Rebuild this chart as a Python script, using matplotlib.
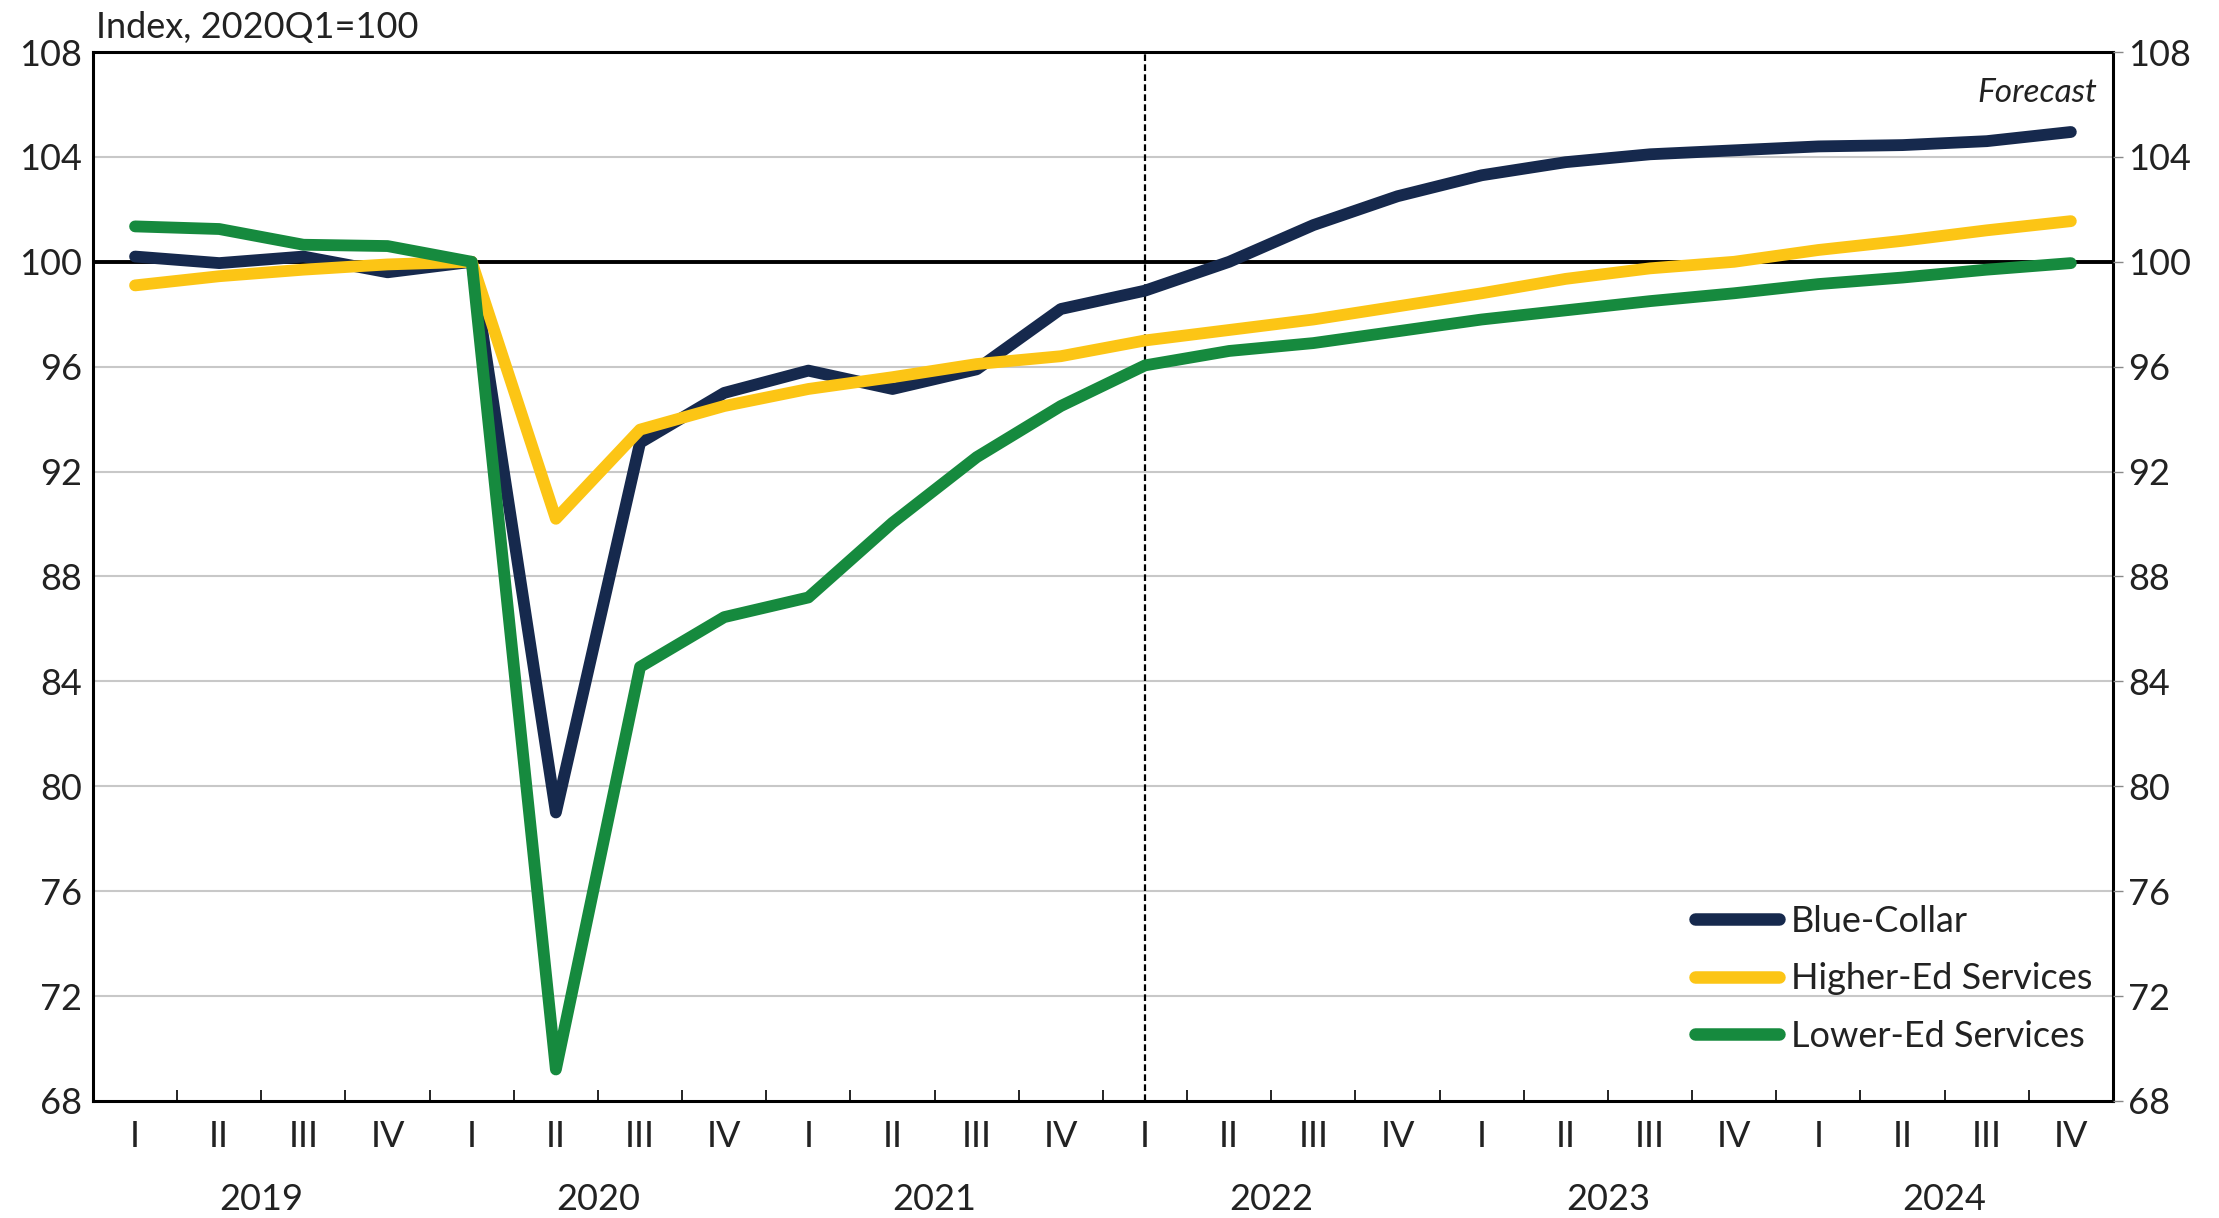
import matplotlib
matplotlib.use("Agg")
import matplotlib.pyplot as plt
from matplotlib.ticker import FixedLocator, NullFormatter

plt.rcParams['font.family'] = ['Lato', 'DejaVu Sans']

quarters = ["I", "II", "III", "IV"] * 6
years = ["2019", "2020", "2021", "2022", "2023", "2024"]

blue_collar = [100.2, 99.95, 100.2, 99.6, 100.0, 79.0, 93.1, 95.0, 95.85, 95.15, 95.9, 98.2,
               98.9, 100.0, 101.4, 102.5, 103.3, 103.8, 104.1, 104.25, 104.4, 104.45, 104.6, 104.95]
higher_ed = [99.1, 99.45, 99.7, 99.9, 100.0, 90.2, 93.6, 94.5, 95.15, 95.6, 96.1, 96.4,
             97.0, 97.4, 97.8, 98.3, 98.8, 99.35, 99.75, 100.0, 100.45, 100.8, 101.2, 101.55]
lower_ed = [101.35, 101.25, 100.65, 100.6, 100.0, 69.2, 84.55, 86.45, 87.2, 90.05, 92.55, 94.5,
            96.05, 96.6, 96.9, 97.35, 97.8, 98.15, 98.5, 98.8, 99.15, 99.4, 99.7, 99.95]

series = [("Blue-Collar", blue_collar, "#16294d"),
          ("Higher-Ed Services", higher_ed, "#fcc515"),
          ("Lower-Ed Services", lower_ed, "#168a3e")]

yticks = [68, 72, 76, 80, 84, 88, 92, 96, 100, 104, 108]
forecast_start = 12

FS = 26
TXT = "#222222"

fig = plt.figure(figsize=(22.19, 12.18), dpi=100)
ax = fig.add_axes([0.0419, 0.0961, 0.9103, 0.8612])
x = list(range(len(quarters)))

ax.set_ylim(68, 108)
ax.set_xlim(-0.5, len(quarters) - 0.5)

for yv in yticks:
    if yv == 100:
        ax.axhline(yv, color="black", lw=2.8, zorder=2)
    elif yv not in (68, 108):
        ax.axhline(yv, color="#c8c8c8", lw=1.5, zorder=1)

ax.axvline(forecast_start, color="black", lw=1.6, ls=(0, (3, 1.5)), zorder=2)

for name, vals, col in series:
    ax.plot(x, vals, color=col, lw=8.5, label=name, solid_capstyle="round",
            solid_joinstyle="round", zorder=3)

for sp in ax.spines.values():
    sp.set_linewidth(2.2)
    sp.set_color("black")

# y axis
ax.set_yticks(yticks)
ax.set_yticklabels([str(v) for v in yticks], fontsize=FS, color=TXT)
ax.tick_params(axis="y", which="both", length=0, pad=8)
ax2 = ax.twinx()
ax2.set_ylim(ax.get_ylim())
ax2.set_yticks(yticks)
ax2.set_yticklabels([str(v) for v in yticks], fontsize=FS, color=TXT)
ax2.tick_params(axis="y", length=7, width=1, direction="out", pad=4, color="#888888")
for sp in ax2.spines.values():
    sp.set_visible(False)

# x axis
ax.xaxis.set_major_locator(FixedLocator([i - 0.5 for i in range(len(quarters) + 1)]))
ax.xaxis.set_major_formatter(NullFormatter())
ax.tick_params(axis="x", which="major", direction="in", length=8, width=1.2)
ax.xaxis.set_minor_locator(FixedLocator(x))
ax.set_xticks(x, minor=True)
ax.set_xticklabels(quarters, minor=True, fontsize=FS, color=TXT)
ax.tick_params(axis="x", which="minor", length=0, pad=14)

for i, yr in enumerate(years):
    ax.annotate(yr, xy=(i * 4 + 1.5, 0), xycoords=("data", "axes fraction"),
                xytext=(0, -71), textcoords="offset points", ha="center", va="center",
                fontsize=FS, color=TXT)

ax.text(0.0015, 1.008, "Index, 2020Q1=100", transform=ax.transAxes, fontsize=FS,
        color=TXT, ha="left", va="bottom")
ax.text(0.992, 0.975, "Forecast", transform=ax.transAxes, fontsize=24, style="italic",
        color=TXT, ha="right", va="top")

leg = ax.legend(loc="lower right", bbox_to_anchor=(1.006, 0.015), frameon=False,
                fontsize=FS, handlelength=2.3, handletextpad=0.35, labelspacing=0.68,
                labelcolor=TXT)
for h in leg.get_lines():
    h.set_linewidth(9)

fig.savefig("out.png", dpi=100, facecolor="white")
